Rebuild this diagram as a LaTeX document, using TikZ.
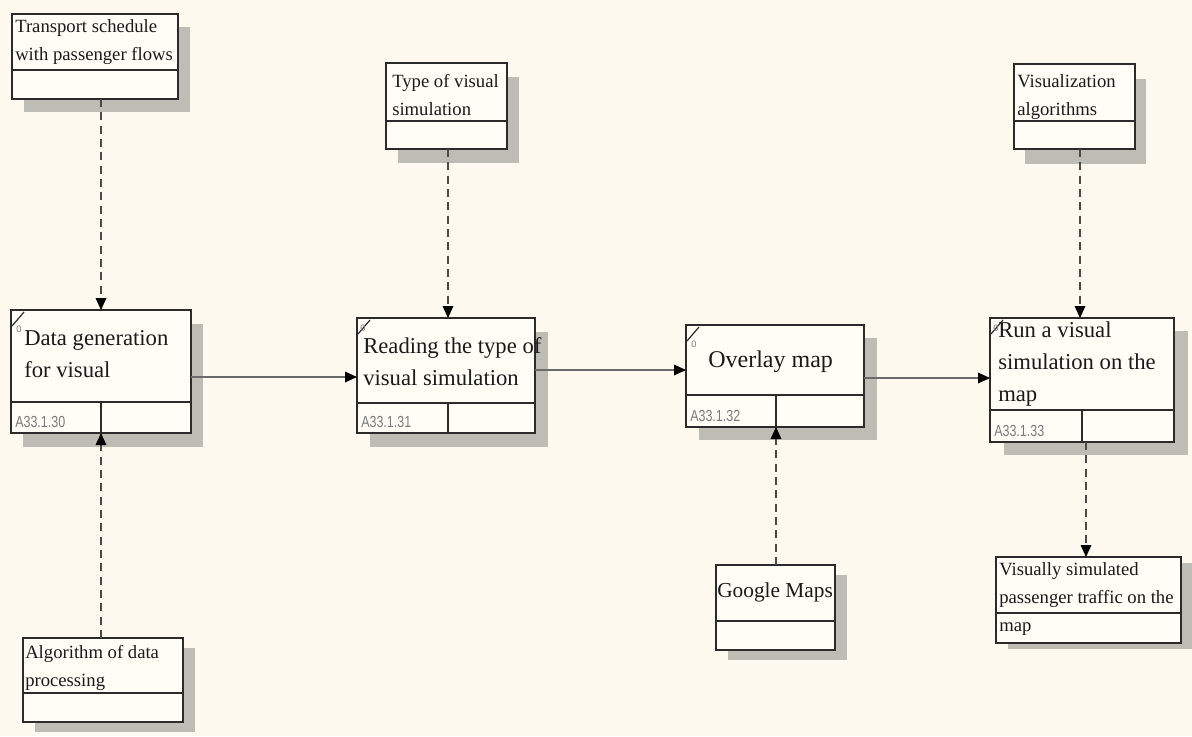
\documentclass[tikz,border=0pt]{standalone}
\usepackage{fontspec}
\usepackage{graphicx}
\setmainfont{Liberation Serif}
\newfontfamily\labelfont{Liberation Sans}
\usetikzlibrary{arrows.meta}
\definecolor{bgc}{HTML}{FDF9EF}
\definecolor{boxfill}{HTML}{FFFDF6}
\definecolor{boxc}{HTML}{2B2B2B}
\definecolor{shadowc}{HTML}{BDBCB5}
\definecolor{txtc}{HTML}{1A1A1A}
\definecolor{labc}{HTML}{7A7A7A}
\definecolor{dashc}{HTML}{4A4A4A}
\definecolor{linec}{HTML}{6A6A6A}
\tikzset{
  ibox/.style={rectangle, draw=boxc, line width=2pt, fill=boxfill, inner sep=0pt, outer sep=0pt},
  divline/.style={draw=boxc, line width=1.7pt},
  shadowfill/.style={fill=shadowc},
  smalltxt/.style={font=\fontsize{14}{21}\selectfont, text=txtc, inner sep=0pt, align=left, anchor=north west},
  bigtxt/.style={font=\fontsize{17}{24}\selectfont, text=txtc, inner sep=0pt, align=left, anchor=north west},
  idlabel/.style={font=\labelfont\fontsize{12}{13}\selectfont, text=labc, inner sep=0pt, anchor=base west},
  zerolab/.style={font=\labelfont\fontsize{7}{8}\selectfont, text=labc, inner sep=0pt},
  cornerline/.style={draw=boxc, line width=0.9pt},
  dasharr/.style={draw=dashc, line width=0.8pt, dash pattern=on 6pt off 4pt, -{Triangle[length=9pt,width=8pt,color=black]}},
  solarr/.style={draw=linec, line width=0.9pt, -{Triangle[length=9pt,width=8pt,color=black]}},
}
% #1 name, #2 x0, #3 y0, #4 x1, #5 y1, #6 ydiv, #7 sx, #8 sy
\newcommand\idefbox[8]{%
  \fill[shadowfill] (#2+#7,#3+#8) rectangle (#4+#7,#5+#8);
  \node[ibox, anchor=north west, minimum width={(#4-#2)*0.75pt}, minimum height={(#5-#3)*0.75pt}] (#1) at (#2,#3) {};
  \draw[divline] (#2,#6) -- (#4,#6);
}
% activity extras: #1 x0, #2 y0, #3 xdiv, #4 ydiv, #5 y1, #6 label, #7 zero dx, #8 zero dy
\newcommand\actextra[8]{%
  \draw[divline] (#3,#4) -- (#3,#5);
  \draw[cornerline] (#1+1,#2+16) -- (#1+13,#2+2);
  \node[zerolab] at (#1+#7,#2+#8) {0};
  \node[idlabel] at (#1+4,#5-6) {\scalebox{0.78}[1]{#6}};
}
\begin{document}
\begin{tikzpicture}[x=0.75pt,y=-0.75pt]
\fill[bgc] (0,0) rectangle (1192,736);
\useasboundingbox (0,0) rectangle (1192,736);

% boxes
\idefbox{trans}{12}{14}{178}{99}{70}{12}{13}
\idefbox{typ}{386}{63}{507}{149}{121}{12}{14}
\idefbox{vis}{1014}{64}{1135}{149}{121}{11}{15}
\idefbox{datagen}{11}{310}{191}{433}{402}{12}{14}
\idefbox{reading}{357}{318}{535}{433}{403}{13}{14}
\idefbox{overlay}{686}{325}{864}{427}{395}{13}{13}
\idefbox{run}{990}{318}{1174}{442}{410}{14}{13}
\idefbox{visout}{996}{557}{1181}{643}{613}{12}{6}
\idefbox{google}{716}{565}{835}{650}{621}{12}{10}
\idefbox{algo}{23}{638}{183}{722}{693}{12}{10}

\actextra{11}{310}{101}{402}{433}{A33.1.30}{8}{19}
\actextra{357}{318}{448}{403}{433}{A33.1.31}{6}{10}
\actextra{686}{325}{776}{395}{427}{A33.1.32}{8}{19}
\actextra{990}{318}{1082}{410}{442}{A33.1.33}{6}{10}

% texts
\node[smalltxt] (trans-t) at (15,12.4) {\strut Transport schedule\\with passenger flows};
\node[smalltxt] (typ-t) at (392,67.4) {\strut Type of visual\\simulation};
\node[smalltxt] (vis-t) at (1017,67.4) {\strut Visualization\\algorithms};
\node[smalltxt] (visout-t) at (999,555.4) {\strut Visually simulated\\passenger traffic on the\\map};
\node[smalltxt] (algo-t) at (25,638.4) {\strut Algorithm of data\\processing};
\node[font=\fontsize{16}{20}\selectfont, text=txtc, inner sep=0pt, anchor=base west] (google-t) at (717,597) {Google Maps};
\node[bigtxt] (datagen-t) at (24,322.6) {\strut Data generation\\for visual};
\node[bigtxt] (reading-t) at (363,330.6) {\strut Reading the type of\\visual simulation};
\node[font=\fontsize{18}{22}\selectfont, text=txtc, inner sep=0pt, anchor=base west] (overlay-t) at (708,367) {Overlay map};
\node[bigtxt] (run-t) at (998,314.6) {\strut Run a visual\\simulation on the\\map};

% ports
\coordinate (dg-top) at (101,310);
\coordinate (dg-bot) at (101,433);
\coordinate (rd-top) at (448,318);
\coordinate (ov-bot) at (776,427);
\coordinate (rn-top) at (1080,318);
\coordinate (rn-bot) at (1086,442);
\coordinate (h1) at (270,377);
\coordinate (h2) at (610,370);
\coordinate (h3) at (925,378);

% connectors
\draw[dasharr] (trans.south -| dg-top) -- (dg-top);
\draw[dasharr] (algo.north -| dg-bot) -- (dg-bot);
\draw[dasharr] (typ.south -| rd-top) -- (rd-top);
\draw[dasharr] (google.north -| ov-bot) -- (ov-bot);
\draw[dasharr] (vis.south -| rn-top) -- (rn-top);
\draw[dasharr] (rn-bot) -- (visout.north -| rn-bot);
\draw[solarr] (datagen.east |- h1) -- (reading.west |- h1);
\draw[solarr] (reading.east |- h2) -- (overlay.west |- h2);
\draw[solarr] (overlay.east |- h3) -- (run.west |- h3);
\end{tikzpicture}
\end{document}
